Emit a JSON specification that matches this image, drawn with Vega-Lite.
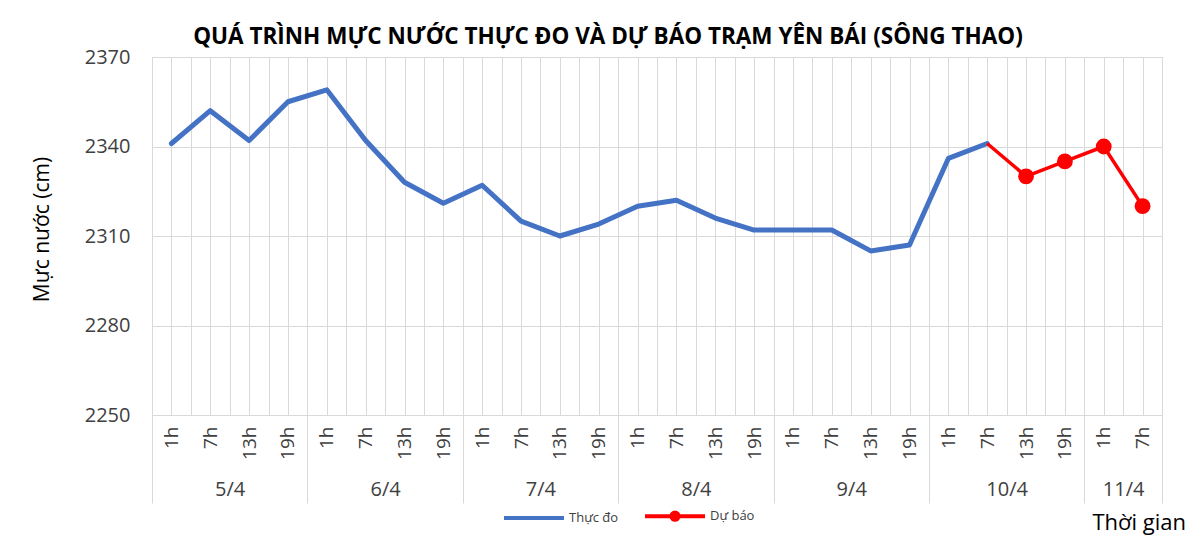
{
  "$schema": "https://vega.github.io/schema/vega-lite/v6.json",
  "autosize": "none",
  "width": 1010,
  "height": 358,
  "padding": {"left": 152, "top": 57, "right": 41, "bottom": 122},
  "background": "white",
  "config": {"font": "Open Sans", "view": {"stroke": "#d9d9d9"}},
  "title": {
    "text": "QUÁ TRÌNH MỰC NƯỚC THỰC ĐO VÀ DỰ BÁO TRẠM YÊN BÁI (SÔNG THAO)",
    "fontSize": 22.5, "fontWeight": "bold", "font": "Open Sans", "color": "#000000",
    "anchor": "middle", "dx": -49, "offset": -1
  },
  "data": {
    "values": [
      {"series": "Thực đo", "i": 0, "date": "5/4", "hour": "1h", "value": 2341},
      {"series": "Thực đo", "i": 1, "date": "5/4", "hour": "7h", "value": 2352},
      {"series": "Thực đo", "i": 2, "date": "5/4", "hour": "13h", "value": 2342},
      {"series": "Thực đo", "i": 3, "date": "5/4", "hour": "19h", "value": 2355},
      {"series": "Thực đo", "i": 4, "date": "6/4", "hour": "1h", "value": 2359},
      {"series": "Thực đo", "i": 5, "date": "6/4", "hour": "7h", "value": 2342},
      {"series": "Thực đo", "i": 6, "date": "6/4", "hour": "13h", "value": 2328},
      {"series": "Thực đo", "i": 7, "date": "6/4", "hour": "19h", "value": 2321},
      {"series": "Thực đo", "i": 8, "date": "7/4", "hour": "1h", "value": 2327},
      {"series": "Thực đo", "i": 9, "date": "7/4", "hour": "7h", "value": 2315},
      {"series": "Thực đo", "i": 10, "date": "7/4", "hour": "13h", "value": 2310},
      {"series": "Thực đo", "i": 11, "date": "7/4", "hour": "19h", "value": 2314},
      {"series": "Thực đo", "i": 12, "date": "8/4", "hour": "1h", "value": 2320},
      {"series": "Thực đo", "i": 13, "date": "8/4", "hour": "7h", "value": 2322},
      {"series": "Thực đo", "i": 14, "date": "8/4", "hour": "13h", "value": 2316},
      {"series": "Thực đo", "i": 15, "date": "8/4", "hour": "19h", "value": 2312},
      {"series": "Thực đo", "i": 16, "date": "9/4", "hour": "1h", "value": 2312},
      {"series": "Thực đo", "i": 17, "date": "9/4", "hour": "7h", "value": 2312},
      {"series": "Thực đo", "i": 18, "date": "9/4", "hour": "13h", "value": 2305},
      {"series": "Thực đo", "i": 19, "date": "9/4", "hour": "19h", "value": 2307},
      {"series": "Thực đo", "i": 20, "date": "10/4", "hour": "1h", "value": 2336},
      {"series": "Thực đo", "i": 21, "date": "10/4", "hour": "7h", "value": 2341},
      {"series": "Dự báo", "i": 21, "date": "10/4", "hour": "7h", "value": 2341},
      {"series": "Dự báo", "i": 22, "date": "10/4", "hour": "13h", "value": 2330},
      {"series": "Dự báo", "i": 23, "date": "10/4", "hour": "19h", "value": 2335},
      {"series": "Dự báo", "i": 24, "date": "11/4", "hour": "1h", "value": 2340},
      {"series": "Dự báo", "i": 25, "date": "11/4", "hour": "7h", "value": 2320}
    ]
  },
  "layer": [
    {
      "transform": [{"filter": "datum.series == 'Thực đo'"}],
      "mark": {"type": "line", "strokeWidth": 5, "strokeCap": "round", "strokeJoin": "round"},
      "encoding": {
        "x": {
          "field": "i", "type": "quantitative",
          "scale": {"domain": [-0.5, 25.5], "nice": false, "zero": false},
          "axis": {
            "orient": "bottom",
            "values": [-0.5,0,0.5,1,1.5,2,2.5,3,3.5,4,4.5,5,5.5,6,6.5,7,7.5,8,8.5,9,9.5,10,10.5,11,11.5,12,12.5,13,13.5,14,14.5,15,15.5,16,16.5,17,17.5,18,18.5,19,19.5,20,20.5,21,21.5,22,22.5,23,23.5,24,24.5,25,25.5],
            "grid": true, "gridColor": "#d9d9d9", "gridWidth": 1,
            "ticks": false, "domain": false,
            "labelExpr": "datum.value % 1 == 0 ? ['1h','7h','13h','19h'][datum.value % 4] : ''",
            "labelAngle": 270, "labelAlign": "right", "labelBaseline": "middle",
            "labelFontSize": 19, "labelColor": "#404040", "labelPadding": 11,
            "labelOverlap": false, "labelFlush": false, "labelBound": false,
            "title": null
          }
        },
        "y": {
          "field": "value", "type": "quantitative",
          "scale": {"domain": [2250, 2370], "nice": false, "zero": false},
          "axis": {
            "values": [2250, 2280, 2310, 2340, 2370], "format": "d",
            "grid": true, "gridColor": "#d9d9d9", "ticks": false, "domain": false,
            "labelFontSize": 20, "labelColor": "#404040", "labelPadding": 22,
            "title": "Mực nước (cm)", "titleFontSize": 21, "titleFontWeight": "normal",
            "titleColor": "#000000", "titleX": -110, "titleY": 172, "titleBaseline": "middle",
            "titleAngle": 270, "titleAlign": "center"
          }
        },
        "color": {
          "field": "series", "type": "nominal",
          "scale": {"domain": ["Thực đo", "Dự báo"], "range": ["#4472C4", "#FF0000"]},
          "legend": {
            "orient": "none", "legendX": 350, "legendY": 427,
            "direction": "horizontal", "title": null,
            "symbolType": "stroke", "symbolSize": 3600, "symbolStrokeWidth": 4,
            "labelFontSize": 13, "labelColor": "#404040", "labelOffset": 3,
            "columnPadding": 18,
            "encode": {
              "symbols": {
                "update": {
                  "shape": {"signal": "datum.value == 'Dự báo' ? 'M-1,0H1M0.12,0A0.12,0.12,0,1,1,-0.12,0A0.12,0.12,0,1,1,0.12,0' : 'M-1,0H1'"},
                  "fill": {"signal": "datum.value == 'Dự báo' ? '#FF0000' : 'transparent'"}
                }
              }
            }
          }
        }
      }
    },
    {
      "transform": [{"filter": "datum.series == 'Dự báo'"}],
      "mark": {"type": "line", "strokeWidth": 3.5, "color": "#FF0000", "strokeJoin": "round"},
      "encoding": {
        "x": {
          "field": "i", "type": "quantitative",
          "axis": {
            "orient": "bottom",
            "values": [-0.5,1.5,3.5,5.5,7.5,9.5,11.5,13.5,15.5,17.5,19.5,21.5,23.5,24.5,25.5],
            "grid": false, "domain": false,
            "ticks": true, "tickSize": 88, "tickColor": "#d9d9d9", "tickWidth": 1,
            "tickOpacity": {"condition": {"test": "(datum.value + 0.5) % 4 == 0 || datum.value == 25.5", "value": 1}, "value": 0},
            "labelExpr": "((datum.value + 0.5) % 4 == 2 && datum.value < 25) || datum.value == 24.5 ? ['5/4','6/4','7/4','8/4','9/4','10/4','11/4'][floor((datum.value + 0.5) / 4)] : ''",
            "labelAngle": 0, "labelAlign": "center", "labelBaseline": "top",
            "labelFontSize": 20, "labelColor": "#404040", "labelPadding": -24,
            "labelOverlap": false, "labelFlush": false, "labelBound": false,
            "title": "Thời gian", "titleX": 940, "titleY": 107,
            "titleAlign": "left", "titleBaseline": "middle",
            "titleFontSize": 22, "titleFontWeight": "normal", "titleColor": "#000000"
          }
        },
        "y": {"field": "value", "type": "quantitative"}
      }
    },
    {
      "transform": [{"filter": "datum.series == 'Dự báo' && datum.i > 21"}],
      "mark": {"type": "point", "filled": true, "size": 250, "color": "#FF0000", "opacity": 1},
      "encoding": {
        "x": {"field": "i", "type": "quantitative", "axis": null},
        "y": {"field": "value", "type": "quantitative"}
      }
    }
  ],
  "resolve": {"axis": {"x": "independent"}}
}
